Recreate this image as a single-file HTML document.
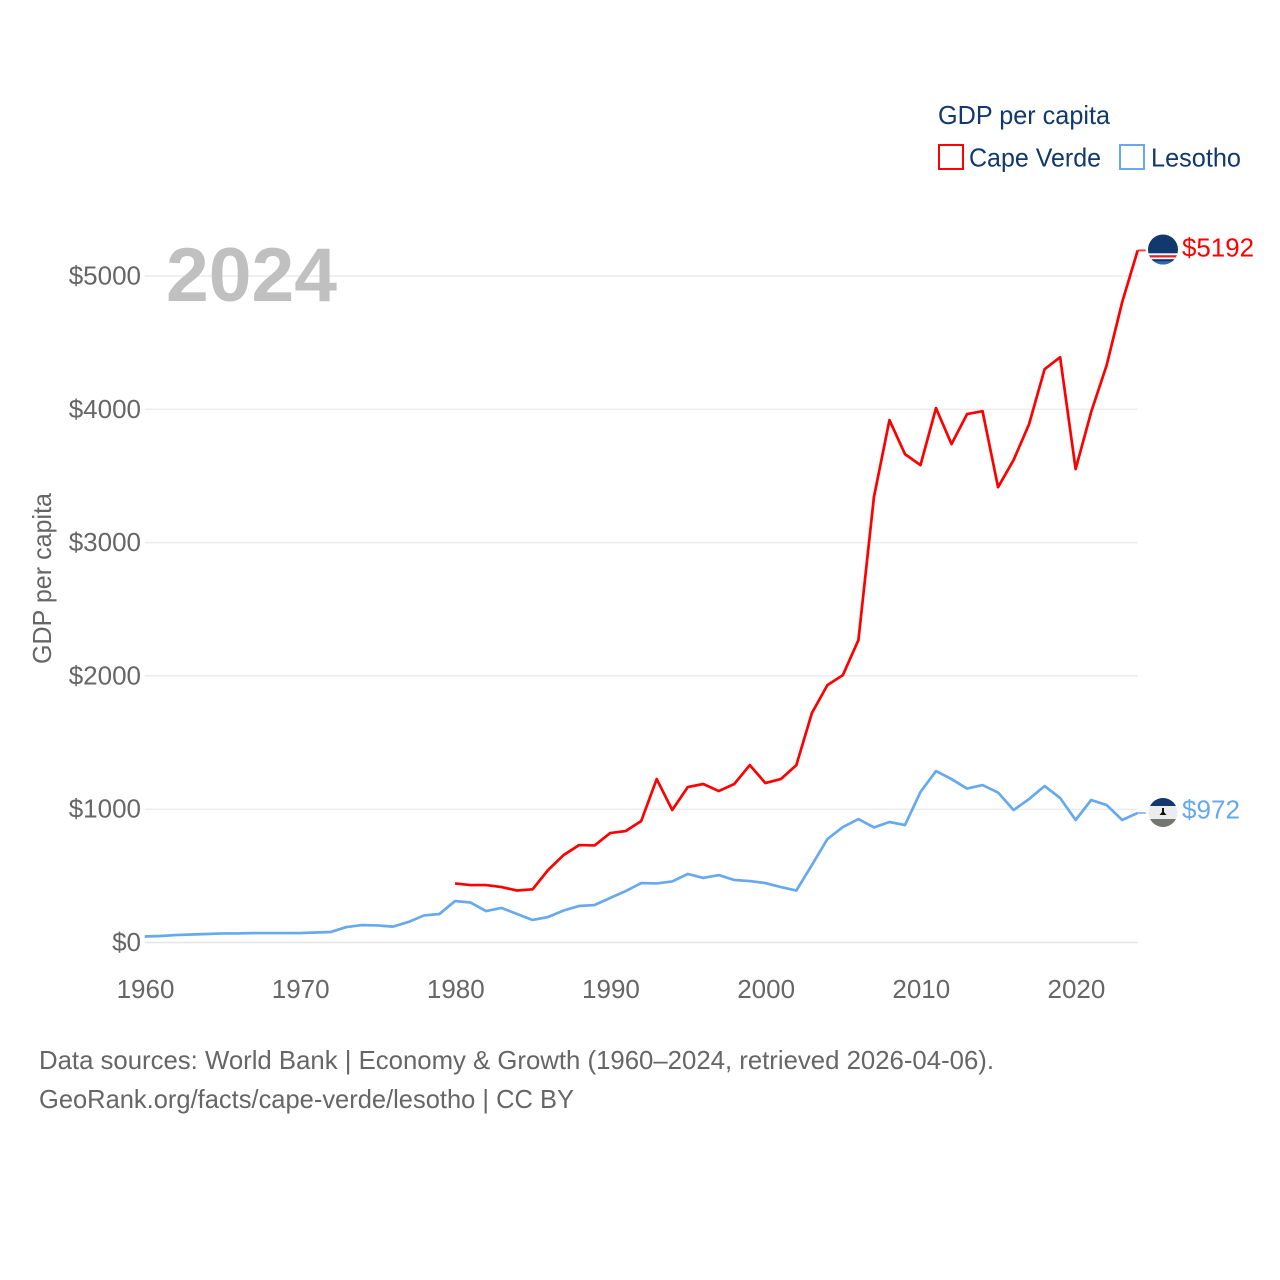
<!DOCTYPE html>
<html lang="en">
<head>
<meta charset="utf-8">
<title>GDP per capita: Cape Verde and Lesotho</title>
<style>
html,body{margin:0;padding:0;background:#fff;width:1280px;height:1280px;overflow:hidden}
svg{display:block}
text{font-family:"Liberation Sans",sans-serif}
</style>
</head>
<body>
<svg id="chart" width="1280" height="1280" viewBox="0 0 1280 1280" xmlns="http://www.w3.org/2000/svg">
  <defs>
    <clipPath id="clip-cv"><circle cx="1163" cy="249.5" r="15"/></clipPath>
    <clipPath id="clip-ls"><circle cx="1163" cy="812.5" r="14.5"/></clipPath>
  </defs>
  <rect width="1280" height="1280" fill="#fff"/>
  <g id="grid"></g>
  <g id="yticks"></g>
  <g id="xticks"></g>
  <text transform="translate(51,664) rotate(-90)" font-size="26" fill="#666" textLength="171" lengthAdjust="spacingAndGlyphs">GDP per capita</text>
  <text x="166" y="301" font-size="76" font-weight="700" fill="#c0c0c0" textLength="171" lengthAdjust="spacingAndGlyphs">2024</text>
  <g id="series"></g>

  <g>
    <text x="938" y="124" font-size="26" fill="#12396e" textLength="172" lengthAdjust="spacingAndGlyphs">GDP per capita</text>
    <rect x="939" y="145" width="24" height="24" fill="#fff" stroke="#ff0000" stroke-width="2"/>
    <text x="969" y="166.500" font-size="26" fill="#12396e" textLength="132" lengthAdjust="spacingAndGlyphs">Cape Verde</text>
    <rect x="1120" y="145" width="24" height="24" fill="#fff" stroke="#66a9ee" stroke-width="2"/>
    <text x="1151" y="166.500" font-size="26" fill="#12396e" textLength="90" lengthAdjust="spacingAndGlyphs">Lesotho</text>
  </g>

  <g clip-path="url(#clip-cv)">
    <rect x="1146" y="232" width="34" height="36" fill="#12396e"/>
    <rect x="1146" y="253.3" width="34" height="6" fill="#fff"/>
    <rect x="1146" y="255.2" width="34" height="2.3" fill="#e3212b"/>
    <rect x="1146" y="259.3" width="34" height="2" fill="#12396e"/>
    <rect x="1146" y="261.3" width="34" height="6" fill="#2f6db0"/>
  </g>
  <g clip-path="url(#clip-ls)">
    <rect x="1146" y="796" width="34" height="10" fill="#12396e"/>
    <rect x="1146" y="806" width="34" height="13" fill="#ececec"/>
    <rect x="1146" y="819" width="34" height="11" fill="#73776f"/>
    <path d="M1162 808h2v4l2.500 3h-7l2.500-3z" fill="#111"/>
  </g>

  <text x="1182" y="256.500" font-size="26" fill="#ff0000" textLength="72" lengthAdjust="spacingAndGlyphs">$5192</text>
  <text x="1182" y="818.500" font-size="26" fill="#66a9ee" textLength="58" lengthAdjust="spacingAndGlyphs">$972</text>

  <text x="39" y="1069" font-size="26" fill="#666" textLength="955" lengthAdjust="spacingAndGlyphs">Data sources: World Bank | Economy &amp; Growth (1960–2024, retrieved 2026-04-06).</text>
  <text x="39" y="1108" font-size="26" fill="#666" textLength="535" lengthAdjust="spacingAndGlyphs">GeoRank.org/facts/cape-verde/lesotho | CC BY</text>
</svg>
<script>
const firstYear = 1960;
const xTickYears = [1960, 1970, 1980, 1990, 2000, 2010, 2020];
const yTickValues = [0, 1000, 2000, 3000, 4000, 5000];
const yTickLabels = ["$0", "$1000", "$2000", "$3000", "$4000", "$5000"];
const capeVerdeStartYear = 1980;
const capeVerdeValues = [443, 431, 431, 416, 390, 399, 544, 656, 731, 728, 821, 836, 911, 1226, 994, 1166, 1189, 1136, 1189, 1331, 1196, 1226, 1331, 1721, 1931, 2006, 2269, 3341, 3919, 3664, 3581, 4009, 3739, 3964, 3986, 3416, 3619, 3889, 4301, 4391, 3551, 3979, 4331, 4804, 5192];
const lesothoStartYear = 1960;
const lesothoValues = [45, 49, 56, 60, 64, 68, 68, 71, 71, 71, 71, 75, 79, 116, 131, 128, 119, 154, 203, 214, 311, 300, 236, 259, 214, 169, 191, 240, 274, 281, 334, 386, 446, 443, 458, 514, 484, 506, 469, 461, 446, 416, 390, 581, 776, 866, 926, 863, 904, 881, 1129, 1286, 1226, 1155, 1181, 1125, 994, 1076, 1174, 1084, 919, 1069, 1031, 919, 972];

const NS = "http://www.w3.org/2000/svg";
function xScale(year) { return 144.7 + (year - 1960) * (1137.7 - 144.7) / 64; }
function yScale(value) { return 942.5 - value * 0.1333; }

const gridGroup = document.getElementById("grid");
const yTickGroup = document.getElementById("yticks");
const xTickGroup = document.getElementById("xticks");
const seriesGroup = document.getElementById("series");

yTickValues.forEach(function (value, i) {
  const line = document.createElementNS(NS, "line");
  
  
  line.setAttribute("x1", xScale(1960));
  line.setAttribute("x2", xScale(2024));
  line.setAttribute("y1", yScale(value));
  line.setAttribute("y2", yScale(value));
  line.setAttribute("stroke", value === 0 ? "#e4e4e4" : "#ececec");
  line.setAttribute("stroke-width", "1.5");
  gridGroup.appendChild(line);

  const label = document.createElementNS(NS, "text");
  
  
  label.setAttribute("x", 141);
  label.setAttribute("y", yScale(value) + 8.5);
  label.setAttribute("text-anchor", "end");
  label.setAttribute("font-size", "26");
  label.setAttribute("fill", "#666");
  label.textContent = yTickLabels[i];
  yTickGroup.appendChild(label);
});

xTickYears.forEach(function (year) {
  const label = document.createElementNS(NS, "text");
  
  
  label.setAttribute("x", xScale(year) + 0.8);
  label.setAttribute("y", 998);
  label.setAttribute("text-anchor", "middle");
  label.setAttribute("font-size", "26");
  label.setAttribute("fill", "#666");
  label.textContent = String(year);
  xTickGroup.appendChild(label);
});

function pointsFor(values, startYear) {
  return values.map(function (value, i) {
    return xScale(startYear + i).toFixed(2) + "," + yScale(value).toFixed(2);
  }).join(" ");
}

const lesothoLine = document.createElementNS(NS, "polyline");


lesothoLine.setAttribute("points", pointsFor(lesothoValues, lesothoStartYear));
lesothoLine.setAttribute("fill", "none");
lesothoLine.setAttribute("stroke", "#66a9ee");
lesothoLine.setAttribute("stroke-width", "2.7");
lesothoLine.setAttribute("stroke-linejoin", "round");
seriesGroup.appendChild(lesothoLine);

const capeVerdeLine = document.createElementNS(NS, "polyline");


capeVerdeLine.setAttribute("points", pointsFor(capeVerdeValues, capeVerdeStartYear));
capeVerdeLine.setAttribute("fill", "none");
capeVerdeLine.setAttribute("stroke", "#ff0000");
capeVerdeLine.setAttribute("stroke-width", "2.7");
capeVerdeLine.setAttribute("stroke-linejoin", "round");
seriesGroup.appendChild(capeVerdeLine);

const lesothoStub = document.createElementNS(NS, "line");


lesothoStub.setAttribute("x1", xScale(2024));
lesothoStub.setAttribute("x2", xScale(2024) + 8);
lesothoStub.setAttribute("y1", yScale(lesothoValues[lesothoValues.length - 1]));
lesothoStub.setAttribute("y2", yScale(lesothoValues[lesothoValues.length - 1]));
lesothoStub.setAttribute("stroke", "#66a9ee");
lesothoStub.setAttribute("stroke-width", "2");
lesothoStub.setAttribute("opacity", "0.75");
seriesGroup.appendChild(lesothoStub);

const capeVerdeStub = document.createElementNS(NS, "line");


capeVerdeStub.setAttribute("x1", xScale(2024));
capeVerdeStub.setAttribute("x2", xScale(2024) + 8);
capeVerdeStub.setAttribute("y1", yScale(capeVerdeValues[capeVerdeValues.length - 1]));
capeVerdeStub.setAttribute("y2", yScale(capeVerdeValues[capeVerdeValues.length - 1]));
capeVerdeStub.setAttribute("stroke", "#ff0000");
capeVerdeStub.setAttribute("stroke-width", "2");
capeVerdeStub.setAttribute("opacity", "0.75");
seriesGroup.appendChild(capeVerdeStub);
</script>
</body>
</html>
